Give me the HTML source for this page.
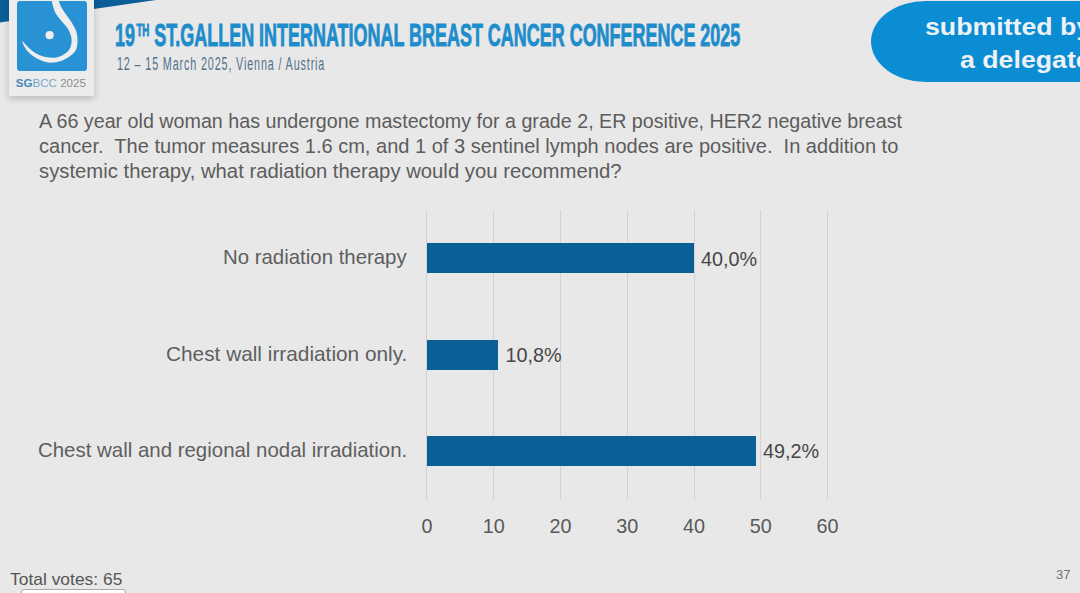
<!DOCTYPE html>
<html><head><meta charset="utf-8">
<style>
html,body{margin:0;padding:0;}
body{width:1080px;height:593px;overflow:hidden;background:#e8e8e8;position:relative;font-family:"Liberation Sans",sans-serif;}
.a{position:absolute;white-space:nowrap;line-height:1;transform-origin:0 0;}
.q{color:#5c5c5c;font-size:19.3px;left:39px;}
.lab{color:#5e5e5e;font-size:19.8px;}
.val{color:#474747;font-size:19.8px;}
.ax{color:#595959;font-size:19.8px;top:515.9px;}
.grid{position:absolute;top:210px;height:290px;width:1px;background:#d2d2d2;}
.bar{position:absolute;left:427px;height:30.2px;background:#0a5f96;}
</style></head>
<body>
<!-- swoosh -->
<svg class="a" style="left:0;top:0" width="300" height="40" viewBox="0 0 300 40">
<path d="M0,0 L156,0 L0,22.5 Z" fill="#0b5e98"/>
</svg>
<!-- logo card -->
<div class="a" style="left:9px;top:-4px;width:85px;height:99.5px;background:#ececec;box-shadow:0 3px 7px rgba(0,0,0,0.2);"></div>
<div class="a" style="left:16.8px;top:1.2px;width:69.8px;height:69.5px;background:#2892d4;border-radius:3px;"></div>
<svg class="a" style="left:0;top:0" width="100" height="100" viewBox="0 0 100 100">
<path d="M51.5,0.0 C51.8,1.0 52.3,3.8 53.0,6.0 C53.7,8.2 54.2,10.6 55.5,13.0 C56.8,15.4 58.9,17.9 61.0,20.6 C63.1,23.3 66.2,26.0 68.0,29.0 C69.8,32.0 71.1,35.5 71.5,38.5 C71.9,41.5 71.4,44.6 70.5,47.0 C69.6,49.4 68.3,51.2 66.0,53.0 C63.7,54.8 59.9,56.8 56.5,57.5 C53.1,58.2 49.2,57.8 45.5,57.0 C41.8,56.2 37.8,54.5 34.5,52.5 C31.2,50.5 28.0,47.0 26.0,45.0 C24.0,43.0 22.9,41.2 22.3,40.5 C22.5,41.2 22.5,43.0 23.5,45.0 C24.5,47.0 26.2,50.0 28.5,52.2 C30.8,54.5 34.2,56.9 37.0,58.5 C39.8,60.1 42.7,61.3 45.5,62.0 C48.3,62.7 51.0,62.8 54.0,62.5 C57.0,62.2 60.5,61.3 63.5,60.0 C66.5,58.7 69.8,56.5 72.0,54.6 C74.2,52.7 75.6,50.9 76.5,48.5 C77.4,46.1 77.5,42.8 77.5,40.0 C77.5,37.2 77.2,34.4 76.3,31.6 C75.4,28.8 73.7,25.8 72.0,23.0 C70.3,20.2 67.8,17.4 66.0,14.6 C64.2,11.8 62.2,8.9 61.0,6.5 C59.8,4.1 58.9,1.1 58.5,0.0 Z" fill="#eeeeee"/>
<circle cx="49.6" cy="35.2" r="4.1" fill="#eeeeee"/>
</svg>
<div class="a" id="logo" style="left:15.7px;top:76.8px;font-size:11.6px;color:#74a8cc;"><b style="color:#4787b6">SG</b>BCC <span style="color:#8c8c8c">2025</span></div>

<!-- title -->
<div class="a" id="title" style="left:115px;top:20px;font-size:31.4px;font-weight:bold;color:#1f8dcc;transform:scaleX(0.572);-webkit-text-stroke:0.9px #1f8dcc;">19<span style="font-size:17px;position:relative;top:-9.6px;margin-left:2.5px">TH</span> ST.GALLEN INTERNATIONAL BREAST CANCER CONFERENCE 2025</div>
<div class="a" id="sub" style="left:117.4px;top:54.9px;font-size:18px;color:#54728b;letter-spacing:1.42px;transform:scaleX(0.6);">12 – 15 March 2025, Vienna / Austria</div>

<!-- pill -->
<div class="a" style="left:871px;top:1px;width:260px;height:81px;border-radius:55px/40.5px;background:#0b8dd3;"></div>
<div class="a" id="p1" style="left:924.5px;top:15.1px;font-size:24.3px;font-weight:bold;color:#eef2f6;transform:scaleX(1.1);">submitted by</div>
<div class="a" id="p2" style="left:959.5px;top:48.2px;font-size:24.3px;font-weight:bold;color:#eef2f6;transform:scaleX(1.1);">a delegate</div>

<!-- question -->
<div class="a q" id="q1" style="top:112.4px;transform:scaleX(1.0206)">A 66 year old woman has undergone mastectomy for a grade 2, ER positive, HER2 negative breast</div>
<div class="a q" id="q2" style="top:137.3px;left:38.5px;transform:scaleX(1.039)">cancer.&nbsp; The tumor measures 1.6 cm, and 1 of 3 sentinel lymph nodes are positive.&nbsp; In addition to</div>
<div class="a q" id="q3" style="top:162.4px;left:38.5px;transform:scaleX(1.052)">systemic therapy, what radiation therapy would you recommend?</div>

<!-- grid -->
<div class="grid" style="left:426.4px"></div>
<div class="grid" style="left:493.2px"></div>
<div class="grid" style="left:559.9px"></div>
<div class="grid" style="left:626.7px"></div>
<div class="grid" style="left:693.5px"></div>
<div class="grid" style="left:760.3px"></div>
<div class="grid" style="left:827px"></div>

<div class="bar" style="top:243.3px;width:266.8px"></div>
<div class="bar" style="top:339.8px;width:70.8px"></div>
<div class="bar" style="top:436.2px;width:328.8px"></div>

<div class="a lab" id="l1" style="left:223.4px;top:248.2px;transform:scaleX(1.031)">No radiation therapy</div>
<div class="a lab" id="l2" style="left:166.2px;top:345.1px;transform:scaleX(1.052)">Chest wall irradiation only.</div>
<div class="a lab" id="l3" style="left:37.7px;top:441.1px;transform:scaleX(1.033)">Chest wall and regional nodal irradiation.</div>

<div class="a val" id="v1" style="left:701px;top:249.7px">40,0%</div>
<div class="a val" id="v2" style="left:505.5px;top:346.1px">10,8%</div>
<div class="a val" id="v3" style="left:763px;top:442.4px">49,2%</div>

<div class="a ax" id="x0" style="left:426.9px;width:40px;text-align:center;margin-left:-20px;top:517.3px">0</div>
<div class="a ax" id="x1" style="left:493.7px;width:40px;text-align:center;margin-left:-20px;top:517.3px">10</div>
<div class="a ax" id="x2" style="left:560.4px;width:40px;text-align:center;margin-left:-20px;top:517.3px">20</div>
<div class="a ax" id="x3" style="left:627.2px;width:40px;text-align:center;margin-left:-20px;top:517.3px">30</div>
<div class="a ax" id="x4" style="left:694.0px;width:40px;text-align:center;margin-left:-20px;top:517.3px">40</div>
<div class="a ax" id="x5" style="left:760.8px;width:40px;text-align:center;margin-left:-20px;top:517.3px">50</div>
<div class="a ax" id="x6" style="left:827.5px;width:40px;text-align:center;margin-left:-20px;top:517.3px">60</div>

<div class="a" id="tv" style="left:10.2px;top:571.5px;font-size:16.6px;color:#555;transform:scaleX(1.05)">Total votes: 65</div>
<div class="a" id="pg" style="left:1056px;top:568px;font-size:13px;color:#707070;">37</div>
<div class="a" style="left:20.75px;top:589px;width:103px;height:10px;background:#fff;border:1px solid #aaa;border-radius:3px;"></div>
</body></html>
